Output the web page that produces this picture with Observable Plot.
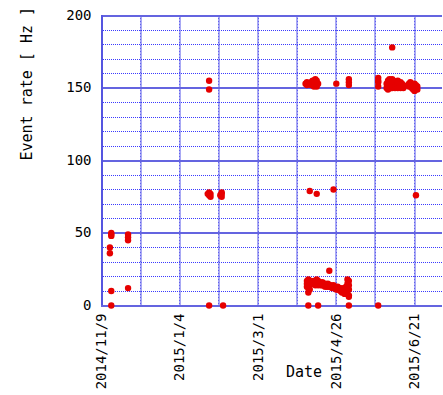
<!DOCTYPE html>
<html>
<head>
<meta charset="utf-8">
<script src="https://cdn.jsdelivr.net/npm/d3@7"></script>
<script src="https://cdn.jsdelivr.net/npm/@observablehq/plot@0.6"></script>
<style>
  html, body { margin: 0; padding: 0; background: #fff; }
</style>
</head>
<body>
<div id="chart"></div>
<script>
// ---- data ----
const dates = [
  "2014-11-15", "2014-11-16", "2014-11-28",
  "2015-01-24", "2015-01-25", "2015-01-26", "2015-02-02", "2015-02-03", "2015-02-04",
  "2015-04-04", "2015-04-05", "2015-04-06", "2015-04-07", "2015-04-08", "2015-04-09",
  "2015-04-10", "2015-04-11", "2015-04-12", "2015-04-13", "2015-04-14", "2015-04-15",
  "2015-04-16", "2015-04-17", "2015-04-18", "2015-04-19", "2015-04-20", "2015-04-21",
  "2015-04-22", "2015-04-23", "2015-04-24", "2015-04-25", "2015-04-26", "2015-04-27",
  "2015-04-28", "2015-04-29", "2015-04-30", "2015-05-01", "2015-05-02", "2015-05-03",
  "2015-05-04", "2015-05-05", "2015-05-26",
  "2015-06-01", "2015-06-02", "2015-06-03", "2015-06-04", "2015-06-05", "2015-06-06",
  "2015-06-07", "2015-06-08", "2015-06-09", "2015-06-10", "2015-06-11", "2015-06-12",
  "2015-06-13", "2015-06-17", "2015-06-18", "2015-06-19", "2015-06-20", "2015-06-21",
  "2015-06-22", "2015-06-23"
];
const rates = [
  [40, 36], [50, 49, 48, 10, 0], [49, 47, 45, 12],
  [77], [155, 149, 78, 76, 0], [75, 77], [76], [78, 75, 77], [0],
  [153], [154, 152, 15, 17, 13], [153, 18, 16, 12, 9, 0], [17, 14, 11, 79], [152, 154, 17, 16], [153, 155, 16, 15],
  [155, 151, 17, 16], [156, 152, 154, 15, 14], [155, 151, 18, 16, 77], [153, 17, 15, 14, 0], [16, 15], [15, 14],
  [16, 14], [15, 14], [15, 13], [14, 13], [15, 13], [14, 13, 24],
  [14, 13], [13, 12], [14, 12, 80], [13, 12], [12, 11, 153], [13, 11],
  [12, 11], [12, 10], [11, 9], [12, 10], [11, 8], [13, 10],
  [18, 15, 12, 8], [17, 14, 11, 7, 6, 0, 156, 152, 154], [157, 154, 151, 155, 0],
  [150, 153], [152, 155, 149], [151, 154, 156], [150, 153, 155], [152, 150, 154, 156, 178], [151, 153, 155],
  [150, 152, 154], [153, 151], [152, 155, 150], [151, 153], [150, 152, 154], [151, 153],
  [152, 150], [153, 151], [154, 152], [150, 153], [152, 149], [151, 148, 153],
  [150, 152, 76], [149, 151]
];
const xTickLabels = ["2014/11/9", "2015/1/4", "2015/3/1", "2015/4/26", "2015/6/21"];
const xGridDates = ["2014-12-07", "2015-01-04", "2015-02-01", "2015-03-01", "2015-03-29", "2015-04-26", "2015-05-24", "2015-06-21"];
const xDomain = ["2014-11-09", "2015-07-11"];
const yTicks = [0, 50, 100, 150, 200];
const yMinor = [10, 20, 30, 40, 60, 70, 80, 90, 110, 120, 130, 140, 160, 170, 180, 190];
const xLabel = "Date";
const yLabel = "Event rate [ Hz ]";

// ---- build table ----
const parseISO = d3.utcParse("%Y-%m-%d");
const parseTick = d3.utcParse("%Y/%m/%d");
const points = [];
dates.forEach((d, i) => rates[i].forEach(v => points.push({date: parseISO(d), rate: v})));
const tickDates = xTickLabels.map(parseTick);
const fmt = d => `${d.getUTCFullYear()}/${d.getUTCMonth() + 1}/${d.getUTCDate()}`;

const chart = Plot.plot({
  width: 443,
  height: 395,
  marginLeft: 101,
  marginRight: 1,
  marginTop: 15,
  marginBottom: 90,
  x: {type: "utc", domain: xDomain.map(parseISO)},
  y: {domain: [0, 200]},
  style: {fontFamily: "'DejaVu Sans Mono', monospace", fontSize: "14px", color: "#000", background: "#fff", overflow: "visible"},
  marks: [
    Plot.ruleX(xGridDates.map(parseISO), {stroke: "#a8a8f4", strokeWidth: 2, shapeRendering: "crispEdges"}),
    Plot.ruleX(xGridDates.map(parseISO), {stroke: "#6060ee", strokeWidth: 1, strokeDasharray: "1,2", shapeRendering: "crispEdges"}),
    Plot.ruleY(yMinor, {stroke: "#3a3aff", strokeWidth: 1, strokeDasharray: "1,1", shapeRendering: "crispEdges"}),
    Plot.ruleY(yTicks, {stroke: "#6464e0", strokeWidth: 2, shapeRendering: "crispEdges"}),
    Plot.ruleX([parseISO(xDomain[0])], {stroke: "#5555e0", strokeWidth: 2, shapeRendering: "crispEdges"}),
    Plot.dot(points, {x: "date", y: "rate", r: 3.2, fill: "#e60000", stroke: null}),
    Plot.axisX({ticks: tickDates, tickFormat: fmt, tickRotate: -90, tickSize: 0, tickPadding: 8, label: null, fontSize: 14}),
    Plot.axisY({ticks: yTicks, tickSize: 0, tickPadding: 10, label: null, fontSize: 14}),
    Plot.text([xLabel], {text: d => d, frameAnchor: "bottom", dx: 32, dy: 71, fontSize: 15}),
    Plot.text([yLabel], {text: d => d, frameAnchor: "left", rotate: -90, dx: -74, fontSize: 15})
  ]
});
document.getElementById("chart").appendChild(chart);
</script>
</body>
</html>
